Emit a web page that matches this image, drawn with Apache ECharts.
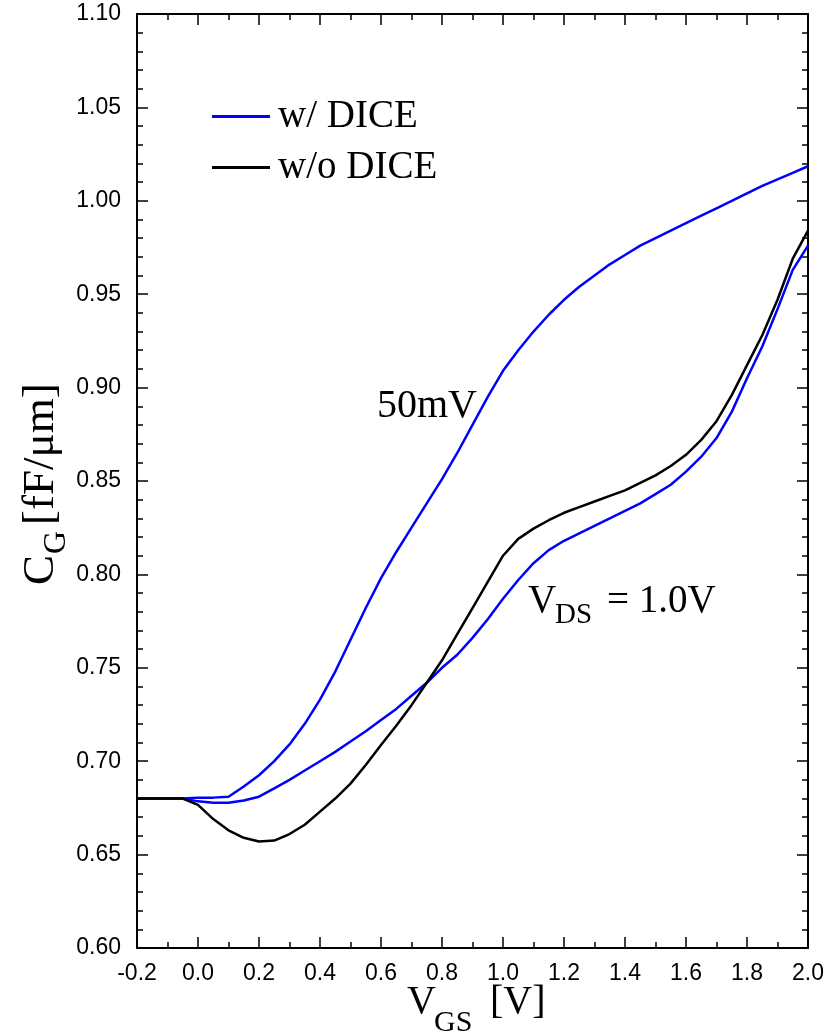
<!DOCTYPE html>
<html><head><meta charset="utf-8">
<script src="https://cdn.jsdelivr.net/npm/echarts@6/dist/echarts.min.js"></script>
<style>html,body{margin:0;padding:0;background:#fff}#c{width:827px;height:1033px}</style>
</head><body><div id="c"></div>
<script>
// V_GS sample points [V]
const vgs = [-0.2,-0.15,-0.1,-0.05,0.0,0.05,0.1,0.15,0.2,0.25,0.3,0.35,0.4,0.45,0.5,0.55,0.6,0.65,0.7,0.75,0.8,0.85,0.9,0.95,1.0,1.05,1.1,1.15,1.2,1.25,1.3,1.35,1.4,1.45,1.5,1.55,1.6,1.65,1.7,1.75,1.8,1.85,1.9,1.95,2.0];
// C_G [fF/um] w/ DICE, V_DS = 50mV
const cgDice50mV = [0.680,0.680,0.680,0.680,0.6805,0.6805,0.681,0.6865,0.6925,0.700,0.709,0.720,0.733,0.748,0.765,0.782,0.798,0.812,0.825,0.838,0.851,0.865,0.880,0.895,0.909,0.920,0.930,0.939,0.947,0.954,0.960,0.966,0.971,0.976,0.980,0.984,0.988,0.992,0.996,1.000,1.004,1.008,1.0115,1.015,1.0185];
// C_G w/ DICE, V_DS = 1.0V
const cgDice1V = [0.680,0.680,0.680,0.680,0.6785,0.6777,0.6777,0.679,0.681,0.6855,0.690,0.695,0.700,0.705,0.7105,0.716,0.722,0.728,0.735,0.742,0.750,0.757,0.766,0.776,0.787,0.797,0.806,0.813,0.818,0.822,0.826,0.830,0.834,0.838,0.843,0.848,0.855,0.863,0.873,0.887,0.905,0.922,0.942,0.963,0.976];
// C_G w/o DICE, V_DS = 1.0V
const cgNoDice1V = [0.680,0.680,0.680,0.680,0.6766,0.669,0.663,0.659,0.657,0.6575,0.661,0.666,0.673,0.680,0.688,0.698,0.7087,0.719,0.730,0.742,0.754,0.768,0.782,0.796,0.810,0.819,0.8245,0.829,0.833,0.836,0.839,0.842,0.845,0.849,0.853,0.858,0.864,0.872,0.882,0.896,0.912,0.928,0.947,0.969,0.984];

const xMin = -0.2, xMax = 2.0, xStep = 0.2;
const yMin = 0.60, yMax = 1.10, yStep = 0.05;

const pairs = arr => vgs.map((x, i) => [x, arr[i]]);
const serif = '"Liberation Serif", "Times New Roman", serif';
const sans = '"Liberation Sans", Arial, sans-serif';

const axisCommon = {
  axisLine: {onZero: false, lineStyle: {color: '#000', width: 2}},
  axisTick: {inside: true, length: 11, lineStyle: {color: '#000', width: 1.5}},
  minorTick: {show: true, length: 6, lineStyle: {color: '#000', width: 1.5}},
  splitLine: {show: false}
};
function xAx(pos, showLabel) {
  return Object.assign({}, axisCommon, {
    type: 'value', position: pos, min: xMin, max: xMax, interval: xStep,
    minorTick: Object.assign({}, axisCommon.minorTick, {splitNumber: 2}),
    axisLabel: {show: showLabel, formatter: v => v.toFixed(1), fontSize: 23, color: '#000', fontFamily: sans, margin: 14}
  });
}
function yAx(pos, showLabel) {
  return Object.assign({}, axisCommon, {
    type: 'value', position: pos, min: yMin, max: yMax, interval: yStep,
    minorTick: Object.assign({}, axisCommon.minorTick, {splitNumber: 5}),
    axisLabel: {show: showLabel, formatter: v => v.toFixed(2), fontSize: 23, color: '#000', fontFamily: sans, margin: 16}
  });
}

function txt(x, y, s, size) {
  return {type: 'text', x: x, y: y, style: {text: s, font: size + 'px ' + serif, fill: '#000', verticalAlign: 'bottom'}};
}

const chart = echarts.init(document.getElementById('c'), null, {renderer: 'canvas'});
chart.setOption({
  animation: false,
  backgroundColor: '#fff',
  grid: {left: 137, right: 19, top: 14, bottom: 85, containLabel: false},
  xAxis: [xAx('bottom', true), xAx('top', false)],
  yAxis: [yAx('left', true), yAx('right', false)],
  legend: {
    orient: 'vertical', left: 207, top: 92, itemWidth: 58, itemHeight: 3, itemGap: 12,
    icon: 'rect', selectedMode: false,
    data: ['w/ DICE', 'w/o DICE'],
    textStyle: {fontFamily: serif, fontSize: 39, color: '#000', padding: [0, 0, 0, 3]}
  },
  series: [
    {name: 'w/ DICE', type: 'line', data: pairs(cgDice50mV), symbol: 'none', color: '#0000ff', lineStyle: {width: 2.5, color: '#0000ff'}},
    {name: 'w/ DICE', type: 'line', data: pairs(cgDice1V), symbol: 'none', color: '#0000ff', lineStyle: {width: 2.5, color: '#0000ff'}},
    {name: 'w/o DICE', type: 'line', data: pairs(cgNoDice1V), symbol: 'none', color: '#000', lineStyle: {width: 2.5, color: '#000'}}
  ],
  graphic: [
    txt(377, 426, '50mV', 40),
    txt(528, 621, 'V', 39),
    txt(555, 630, 'DS', 29),
    txt(607, 621, '= 1.0V', 39),
    txt(407, 1022, 'V', 40),
    txt(434, 1038, 'GS', 30),
    txt(490, 1022, '[V]', 40),
    {type: 'group', x: 54, y: 585, rotation: Math.PI / 2, children: [
      {type: 'text', x: 0, y: 10, style: {text: 'C', font: '45px ' + serif, fill: '#000', verticalAlign: 'bottom'}},
      {type: 'text', x: 31, y: 19, style: {text: 'G', font: '32px ' + serif, fill: '#000', verticalAlign: 'bottom'}},
      {type: 'text', x: 60, y: 10, style: {text: '[fF/μm]', font: '45px ' + serif, fill: '#000', verticalAlign: 'bottom'}}
    ]}
  ]
});
</script></body></html>
